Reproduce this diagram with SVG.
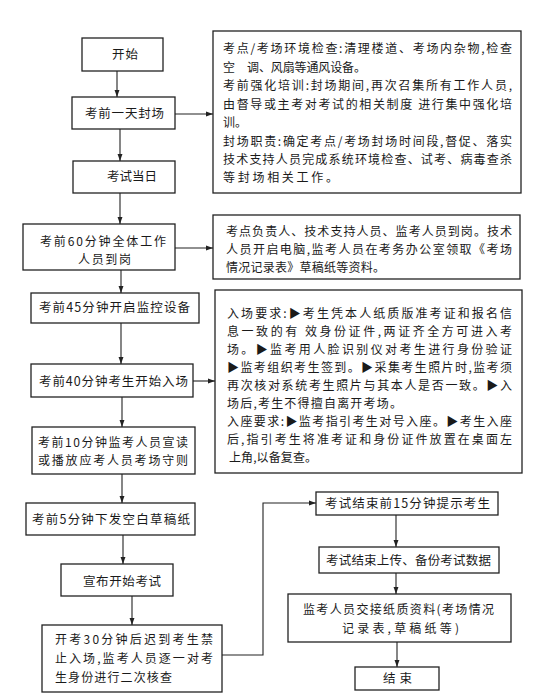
<svg xmlns="http://www.w3.org/2000/svg" width="554" height="700" viewBox="0 0 554 700">
<style>
.box{fill:#fff;stroke:#222;stroke-width:1.3}
.ln{fill:none;stroke:#222;stroke-width:1.1}
text{font-family:"Noto Sans CJK SC","Noto Sans",sans-serif;fill:#1a1a1a}
.l{font-size:12.5px}
.l2{font-size:12px}
.r{font-size:12px}
</style>
<defs>
<marker id="ah" viewBox="0 0 10 10" refX="10" refY="5" markerWidth="7" markerHeight="7" orient="auto" markerUnits="userSpaceOnUse">
<path d="M0,1.5 L10,5 L0,8.5 z" fill="#222"/>
</marker>
</defs>
<rect width="554" height="700" fill="#fff"/>
<g id="connectors">
<line class="ln" x1="117" y1="71" x2="117" y2="97" marker-end="url(#ah)"/>
<line class="ln" x1="120" y1="129" x2="120" y2="161" marker-end="url(#ah)"/>
<line class="ln" x1="120" y1="193" x2="120" y2="224" marker-end="url(#ah)"/>
<line class="ln" x1="121" y1="270" x2="121" y2="293" marker-end="url(#ah)"/>
<line class="ln" x1="121" y1="323" x2="121" y2="364" marker-end="url(#ah)"/>
<line class="ln" x1="122" y1="397" x2="122" y2="427" marker-end="url(#ah)"/>
<line class="ln" x1="122" y1="474" x2="122" y2="503" marker-end="url(#ah)"/>
<line class="ln" x1="123" y1="535" x2="123" y2="564" marker-end="url(#ah)"/>
<line class="ln" x1="132" y1="596" x2="132" y2="625" marker-end="url(#ah)"/>
<polyline class="ln" points="222,655 263,655 263,503 316,503" marker-end="url(#ah)"/>
<line class="ln" x1="396" y1="515" x2="396" y2="547" marker-end="url(#ah)"/>
<line class="ln" x1="396" y1="573" x2="396" y2="594" marker-end="url(#ah)"/>
<line class="ln" x1="397" y1="642" x2="397" y2="667" marker-end="url(#ah)"/>
<line class="ln" x1="175" y1="114" x2="213" y2="114" marker-end="url(#ah)"/>
<line class="ln" x1="175" y1="248" x2="213" y2="248" marker-end="url(#ah)"/>
<line class="ln" x1="193" y1="381" x2="215" y2="381" marker-end="url(#ah)"/>
</g>
<g id="start">
<rect class="box" x="82" y="38" width="81" height="33"/>
<text class="l" x="112" y="59" textLength="26">开始</text>
</g>
<g id="seal">
<rect class="box" x="72" y="97" width="103" height="32"/>
<text class="l" x="85" y="118" textLength="79">考前一天封场</text>
</g>
<g id="examday">
<rect class="box" x="73" y="161" width="102" height="32"/>
<text class="l" x="107" y="181" textLength="50">考试当日</text>
</g>
<g id="m60">
<rect class="box" x="23" y="224" width="152" height="46"/>
<text class="l2" x="40" y="246" textLength="126">考前60分钟全体工作</text>
<text class="l2" x="78" y="264" textLength="53">人员到岗</text>
</g>
<g id="m45">
<rect class="box" x="31" y="293" width="168" height="30"/>
<text class="l" x="39" y="312" textLength="151">考前45分钟开启监控设备</text>
</g>
<g id="m40">
<rect class="box" x="31" y="364" width="162" height="33"/>
<text class="l" x="39" y="386" textLength="149">考前40分钟考生开始入场</text>
</g>
<g id="m10">
<rect class="box" x="32" y="427" width="163" height="47"/>
<text class="l2" x="38" y="447" textLength="150">考前10分钟监考人员宣读</text>
<text class="l2" x="38" y="465" textLength="150">或播放应考人员考场守则</text>
</g>
<g id="m5">
<rect class="box" x="26" y="503" width="169" height="32"/>
<text class="l" x="32" y="524" textLength="158">考前5分钟下发空白草稿纸</text>
</g>
<g id="announce">
<rect class="box" x="61" y="564" width="112" height="32"/>
<text class="l" x="83" y="586" textLength="78">宣布开始考试</text>
</g>
<g id="m30">
<rect class="box" x="42" y="625" width="180" height="67"/>
<text class="l2" x="55" y="644" textLength="158">开考30分钟后迟到考生禁</text>
<text class="l2" x="55" y="663" textLength="158">止入场,监考人员逐一对考</text>
<text class="l2" x="55" y="682" textLength="117">生身份进行二次核查</text>
</g>
<g id="note1">
<rect class="box" x="213" y="31" width="308" height="162"/>
<text class="r" x="223" y="53" textLength="289">考点/考场环境检查:清理楼道、考场内杂物,检查</text>
<text class="r" x="223" y="72">空</text>
<text class="r" x="247" y="72" textLength="119">调、风扇等通风设备。</text>
<text class="r" x="223" y="90" textLength="289">考前强化培训:封场期间,再次召集所有工作人员,</text>
<text class="r" x="223" y="109" textLength="289">由督导或主考对考试的相关制度 进行集中强化培</text>
<text class="r" x="223" y="127">训。</text>
<text class="r" x="223" y="146" textLength="289">封场职责:确定考点/考场封场时间段,督促、落实</text>
<text class="r" x="223" y="164" textLength="289">技术支持人员完成系统环境检查、试考、病毒查杀</text>
<text class="r" x="223" y="182" textLength="115">等封场相关工作。</text>
</g>
<g id="note2">
<rect class="box" x="213" y="215" width="307" height="64"/>
<text class="r" x="226" y="236" textLength="286">考点负责人、技术支持人员、监考人员到岗。技术</text>
<text class="r" x="226" y="254" textLength="286">人员开启电脑,监考人员在考务办公室领取《考场</text>
<text class="r" x="226" y="272" textLength="159">情况记录表》草稿纸等资料。</text>
</g>
<g id="note3">
<rect class="box" x="215" y="290" width="307" height="183"/>
<text class="r" x="227" y="318" textLength="285">入场要求:▶考生凭本人纸质版准考证和报名信</text>
<text class="r" x="227" y="336" textLength="285">息一致的有 效身份证件,两证齐全方可进入考</text>
<text class="r" x="227" y="354" textLength="285">场。▶监考用人脸识别仪对考生进行身份验证</text>
<text class="r" x="227" y="372" textLength="285">▶监考组织考生签到。▶采集考生照片时,监考须</text>
<text class="r" x="227" y="390" textLength="285">再次核对系统考生照片与其本人是否一致。▶入</text>
<text class="r" x="227" y="408" textLength="175">场后,考生不得擅自离开考场。</text>
<text class="r" x="227" y="426" textLength="285">入座要求:▶监考指引考生对号入座。▶考生入座</text>
<text class="r" x="227" y="444" textLength="285">后,指引考生将准考证和身份证件放置在桌面左</text>
<text class="r" x="229" y="462" textLength="88">上角,以备复查。</text>
</g>
<g id="remind">
<rect class="box" x="316" y="492" width="182" height="23"/>
<text class="l" x="325" y="508" textLength="165">考试结束前15分钟提示考生</text>
</g>
<g id="upload">
<rect class="box" x="319" y="547" width="180" height="26"/>
<text class="l" x="326" y="565" textLength="165">考试结束上传、备份考试数据</text>
</g>
<g id="handover">
<rect class="box" x="288" y="594" width="223" height="48"/>
<text class="l2" x="303" y="614" textLength="191">监考人员交接纸质资料(考场情况</text>
<text class="l2" x="342" y="633" textLength="117">记录表,草稿纸等)</text>
</g>
<g id="end">
<rect class="box" x="355" y="667" width="84" height="23"/>
<text class="l" x="383" y="683" textLength="29">结束</text>
</g>
</svg>
